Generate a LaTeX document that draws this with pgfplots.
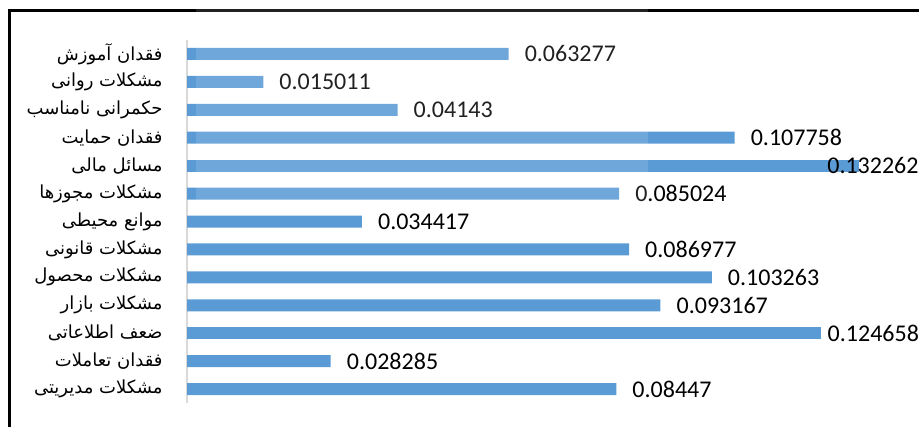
\documentclass[border=0pt]{standalone}
\usepackage{pgfplots}
\pgfplotsset{compat=1.18}
\usepackage{fontspec}
\TeXXeTstate=1
\newfontfamily\arabicfont[Script=Arabic]{DejaVu Sans}
\newfontfamily\numfont{Carlito}
\definecolor{barblue}{HTML}{5B9BD5}
\definecolor{axisgray}{HTML}{D9D9D9}

\begin{document}
\begin{tikzpicture}
\path[use as bounding box] (0,0) rectangle (919bp,427bp);

\begin{axis}[
  at={(187bp,24bp)}, anchor=south west,
  scale only axis, width=732bp, height=363bp,
  xbar, bar width=12bp,
  xmin=0, xmax=0.14404,
  ymin=-0.5, ymax=12.5, y dir=reverse,
  axis x line=none,
  axis y line*=left,
  y axis line style={draw=axisgray, line width=1.2bp, -},
  ytick={0,...,12},
  ytick style={draw=none},
  yticklabels={
    {\arabicfont\beginR فقدان آموزش\endR},
    {\arabicfont\beginR مشکلات روانی\endR},
    {\arabicfont\beginR حکمرانی نامناسب\endR},
    {\arabicfont\beginR فقدان حمایت\endR},
    {\arabicfont\beginR مسائل مالی\endR},
    {\arabicfont\beginR مشکلات مجوزها\endR},
    {\arabicfont\beginR موانع محیطی\endR},
    {\arabicfont\beginR مشکلات قانونی\endR},
    {\arabicfont\beginR مشکلات محصول\endR},
    {\arabicfont\beginR مشکلات بازار\endR},
    {\arabicfont\beginR ضعف اطلاعاتی\endR},
    {\arabicfont\beginR فقدان تعاملات\endR},
    {\arabicfont\beginR مشکلات مدیریتی\endR}},
  yticklabel style={anchor=east, inner sep=0pt, xshift=-20bp,
    font=\fontsize{18bp}{22bp}\selectfont},
  clip=false,
  point meta=explicit symbolic,
  nodes near coords,
  nodes near coords style={anchor=west, inner sep=0pt, xshift=16bp,
    font=\numfont\fontsize{24bp}{28bp}\selectfont, text=black},
]
\addplot[fill=barblue, draw=none, bar shift=0pt] coordinates {
  (0.063277,0)  [0.063277]
  (0.015011,1)  [0.015011]
  (0.04143,2)   [0.04143]
  (0.107758,3)  [0.107758]
  (0.085024,5)  [0.085024]
  (0.034417,6)  [0.034417]
  (0.086977,7)  [0.086977]
  (0.103263,8)  [0.103263]
  (0.093167,9)  [0.093167]
  (0.028285,11) [0.028285]
  (0.08447,12)  [0.08447]
};
% long bars near the right edge: labels pulled in to stay inside
\addplot[fill=barblue, draw=none, bar shift=0pt,
  nodes near coords style={xshift=-9bp}] coordinates {
  (0.124658,10) [0.124658]
};
\addplot[fill=barblue, draw=none, bar shift=0pt,
  nodes near coords style={xshift=-48bp}] coordinates {
  (0.132262,4) [0.132262]
};
\end{axis}

% outer frame (top and left edges)
\draw[line width=3bp, line cap=rect] (9bp,0) -- (9bp,416bp) -- (919bp,416bp);

% pale overlay band across the upper middle
\fill[white, opacity=0.13] (196bp,222bp) rectangle (648bp,427bp);
\end{tikzpicture}
\end{document}
